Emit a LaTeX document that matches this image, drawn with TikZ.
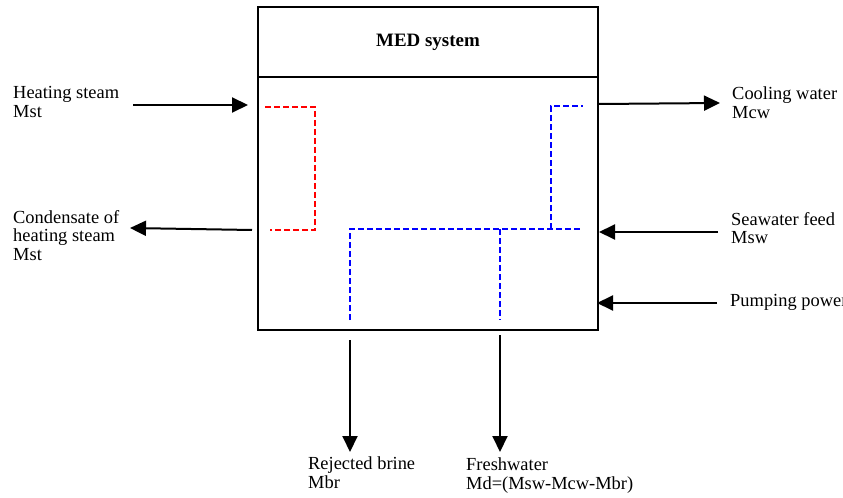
\documentclass[tikz,border=0pt]{standalone}
\usepackage{fontspec}
\setmainfont{Liberation Serif}
\usetikzlibrary{arrows.meta}

\begin{document}
\begin{tikzpicture}[x=1bp,y=-1bp]

\tikzset{
	flow/.style={line width=2bp, -{Triangle[length=16bp,width=15bp]}},
	label/.style={anchor=north west, inner sep=0pt, align=left, font=\fontsize{18.5}{18.7}\selectfont},
	steam/.style={red, line width=2.2bp, dash pattern=on 6bp off 3bp},
	brine/.style={blue, line width=2.2bp, dash pattern=on 6bp off 3bp}
}

\useasboundingbox (0,0) rectangle (843,498);

% the unit itself
\draw[line width=2bp] (258,7) rectangle (598,330);
\draw[line width=2bp] (258,77) -- (598,77);
\node[font=\fontsize{19}{22}\selectfont\bfseries] (title) at (428,42) {MED system};

% inner lines
\draw[steam] (265,107) -- (315,107) -- (315,230) -- (270,230);
\draw[brine] (350,320) -- (350,229) -- (582,229);
\draw[brine] (500,229) -- (500,320);
\draw[brine] (551,229) -- (551,106) -- (583,106);

% streams in and out
\node[label] (hs) at (13,86) {Heating steam\\Mst};
\node[label] (cond) at (13,210) {Condensate of\\heating steam\\Mst};
\node[label] (cw) at (732,87) {Cooling water\\Mcw};
\node[label] (sw) at (731,212) {Seawater feed\\Msw};
\node[label] (pp) at (730,294) {Pumping power};
\node[label] (br) at (308,457) {Rejected brine\\Mbr};
\node[label] (fw) at (466,458) {Freshwater\\Md=(Msw-Mcw-Mbr)};

\coordinate (hsA) at (133,105);  \coordinate (hsB) at (248,105);
\coordinate (cdA) at (252,230);  \coordinate (cdB) at (130,228);
\coordinate (cwA) at (599,104);  \coordinate (cwB) at (720,103);
\coordinate (swA) at (718,232);  \coordinate (swB) at (599,232);
\coordinate (ppA) at (717,303);  \coordinate (ppB) at (597,303);
\coordinate (brA) at (350,340);  \coordinate (brB) at (350,452);
\coordinate (fwA) at (500,335);  \coordinate (fwB) at (500,452);

\draw[flow] (hsA) -- (hsB);
\draw[flow] (cdA) -- (cdB);
\draw[flow] (cwA) -- (cwB);
\draw[flow] (swA) -- (swB);
\draw[flow] (ppA) -- (ppB);
\draw[flow] (brA) -- (brB);
\draw[flow] (fwA) -- (fwB);

\end{tikzpicture}
\end{document}
